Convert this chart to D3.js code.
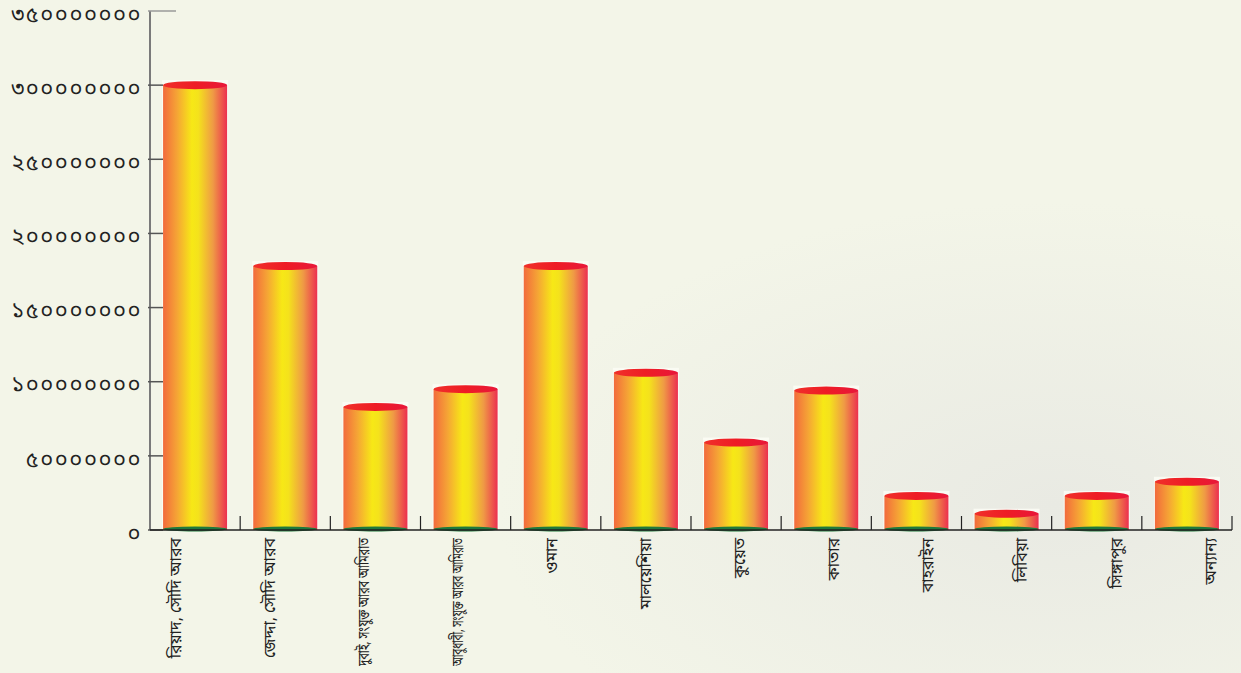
<!DOCTYPE html>
<html>
<head>
<meta charset="utf-8">
<script src="https://cdn.jsdelivr.net/npm/d3@7"></script>
<style>
html,body{margin:0;padding:0;background:#f3f5e8;}
svg{display:block;}
</style>
</head>
<body>
<svg id="chart" width="1241" height="673"></svg>
<script>
const categories = ["রিয়াদ, সৌদি আরব","জেদ্দা, সৌদি আরব","দুবাই, সংযুক্ত আরব আমিরাত","আবুধাবী, সংযুক্ত আরব আমিরাত","ওমান","মালয়েশিয়া","কুয়েত","কাতার","বাহরাইন","লিবিয়া","সিঙ্গাপুর","অন্যান্য"];
const values = [300000000, 178000000, 83000000, 95000000, 178000000, 106000000, 59000000, 94000000, 23000000, 11000000, 23000000, 32500000];
const yTicks = [0, 50000000, 100000000, 150000000, 200000000, 250000000, 300000000, 350000000];

const bnDigits = "০১২৩৪৫৬৭৮৯";
const toBn = n => String(n).replace(/[0-9]/g, d => bnDigits[+d]);

const svg = d3.select("#chart");
const W = 1241, H = 673;
const defs = svg.append("defs");

// background
const bg = defs.append("radialGradient").attr("id","bgGrad").attr("cx","85%").attr("cy","75%").attr("r","45%");
bg.append("stop").attr("offset","0%").attr("stop-color","#e9eae3");
bg.append("stop").attr("offset","100%").attr("stop-color","#f3f5e8");
svg.append("rect").attr("width",W).attr("height",H).attr("fill","#f3f5e8");
svg.append("rect").attr("width",W).attr("height",H).attr("fill","url(#bgGrad)");

const barGrad = defs.append("linearGradient").attr("id","barGrad").attr("x1","0").attr("x2","1").attr("y1","0").attr("y2","0");
[["0%","#f26a3c"],["22%","#f5a535"],["45%","#f7e816"],["55%","#f4e21c"],["78%","#ef9a45"],["100%","#ec2f4f"]]
  .forEach(([o,c]) => barGrad.append("stop").attr("offset",o).attr("stop-color",c));

const capGrad = defs.append("linearGradient").attr("id","capGrad").attr("x1","0").attr("x2","1");
[["0%","#f0302a"],["50%","#ee1c25"],["100%","#e8173a"]].forEach(([o,c]) => capGrad.append("stop").attr("offset",o).attr("stop-color",c));

const x = d3.scaleBand().domain(categories).range([150, 1232]).paddingInner(0.29).paddingOuter(0.145);
const y = d3.scaleLinear().domain([0, 350000000]).range([530, 11]);
const labelX = d3.scalePoint().domain(categories).range([175, 1210]);

// bars
const bw = x.bandwidth();
const ry = 4;
const g = svg.append("g");
const bars = g.selectAll("g.bar").data(categories).join("g").attr("class","bar");
bars.append("rect")
  .attr("x", d => x(d) - 1).attr("width", bw + 2)
  .attr("y", (d,i) => y(values[i]) - ry - 1)
  .attr("height", (d,i) => y(0) - y(values[i]) + ry + 1)
  .attr("fill", "#fbfcf4").attr("opacity", 0.9);
bars.append("rect")
  .attr("x", d => x(d)).attr("width", bw)
  .attr("y", (d,i) => y(values[i]))
  .attr("height", (d,i) => y(0) - y(values[i]))
  .attr("fill", "url(#barGrad)");
bars.append("ellipse")
  .attr("cx", d => x(d) + bw/2).attr("cy", (d,i) => y(values[i]))
  .attr("rx", bw/2).attr("ry", ry)
  .attr("fill", "url(#capGrad)");
bars.append("ellipse")
  .attr("cx", d => x(d) + bw/2).attr("cy", y(0) - 1)
  .attr("rx", bw/2).attr("ry", 2.5)
  .attr("fill", "#1f7a3c");

// y axis
const yAxis = svg.append("g");
yAxis.append("line").attr("x1",150).attr("x2",150).attr("y1",y(350000000)).attr("y2",y(0))
  .attr("stroke","#7a7a7a").attr("stroke-width",2);
yAxis.selectAll("line.tick").data(yTicks).join("line").attr("class","tick")
  .attr("x1",148).attr("x2", d => d === 350000000 ? 176 : 163)
  .attr("y1", d => y(d)).attr("y2", d => y(d))
  .attr("stroke", d => d === 350000000 ? "#9a9a9a" : "#555").attr("stroke-width",1.5);
yAxis.selectAll("text").data(yTicks).join("text")
  .attr("x",142).attr("y", d => y(d) + 3).attr("dy","0.35em")
  .attr("text-anchor","end")
  .attr("font-family","'Noto Sans Bengali','Lohit Bengali','Noto Sans',sans-serif")
  .attr("font-size",22).attr("letter-spacing",1.5).attr("fill","#222")
  .text(d => toBn(d));

// x axis
const xAxis = svg.append("g");
xAxis.append("line").attr("x1",150).attr("x2",1232).attr("y1",y(0)).attr("y2",y(0))
  .attr("stroke","#222").attr("stroke-width",1.5);
const step = x.step();
xAxis.selectAll("line.tick").data(categories).join("line").attr("class","tick")
  .attr("x1", d => x(d) + bw + step*0.145).attr("x2", d => x(d) + bw + step*0.145)
  .attr("y1", y(0)).attr("y2", y(0) - 14)
  .attr("stroke","#222").attr("stroke-width",1.2);
xAxis.selectAll("text").data(categories).join("text")
  .attr("transform", d => `translate(${labelX(d)},538) rotate(-90)`)
  .attr("text-anchor","end").attr("dy","0.35em")
  .attr("font-family","'Noto Sans Bengali','Lohit Bengali','Noto Sans',sans-serif")
  .attr("font-size",16).attr("fill","#222")
  .text(d => d)
  .each(function() {
    const len = this.getComputedTextLength();
    if (len > 128) d3.select(this).attr("textLength", 128).attr("lengthAdjust", "spacingAndGlyphs");
  });
</script>
</body>
</html>
